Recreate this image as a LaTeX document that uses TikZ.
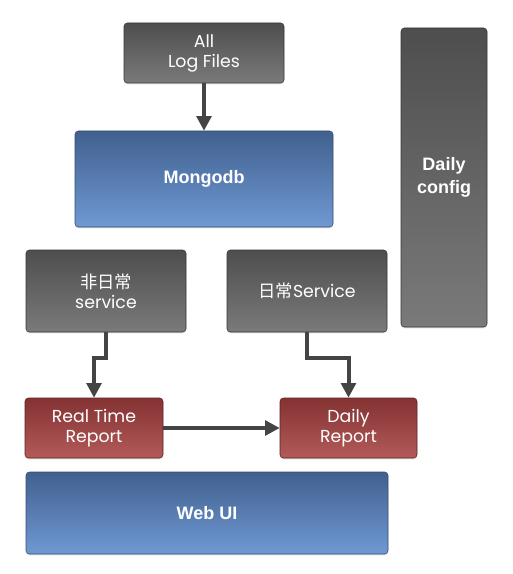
\documentclass[tikz,border=0pt]{standalone}
\usepackage{fontspec}
\usepackage{xcolor}
\setmainfont{Poppins}
\newfontfamily\cjk{Noto Sans CJK SC}
\newfontfamily\heavy{Liberation Sans}
\usetikzlibrary{arrows.meta,shadows}
\definecolor{greytop}{HTML}{4E4E4E}
\definecolor{greybot}{HTML}{7A7A7A}
\definecolor{bluetop}{HTML}{41608F}
\definecolor{bluebot}{HTML}{6F99D3}
\definecolor{redtop}{HTML}{843232}
\definecolor{redbot}{HTML}{B35A5A}
\definecolor{wire}{HTML}{444444}
\tikzset{
    box/.style={rounded corners=2.5pt, text=white, align=center, inner sep=0pt,
        drop shadow={shadow xshift=0pt, shadow yshift=-1pt, opacity=.25}},
    greybox/.style={box, draw=greytop!70!black, top color=greytop, bottom color=greybot,
        font=\fontsize{13}{15}\selectfont},
    bluebox/.style={box, draw=bluetop!80!black, top color=bluetop, bottom color=bluebot,
        font=\heavy\bfseries\fontsize{13.5}{15}\selectfont},
    redbox/.style={box, draw=redtop!70!black, top color=redtop, bottom color=redbot,
        font=\fontsize{13}{15}\selectfont},
    flow/.style={draw=wire, line width=3pt, -{Triangle[length=11pt,width=11pt]}}
}

\begin{document}
\begin{tikzpicture}[x=0.75pt, y=-0.75pt]
\useasboundingbox (0,0) rectangle (513,574);
% top
\node[greybox, minimum width=120pt, minimum height=45pt] (logs) at (204,53) {All\\Log Files};
\node[bluebox, minimum width=193.5pt, minimum height=72pt] (mongo) at (204,179) {Mongodb};
\node[greybox, font=\heavy\bfseries\fontsize{13.5}{17}\selectfont,
    minimum width=64.5pt, minimum height=224.25pt] (config) at (444,177.5) {Daily\\config};
% services
\node[greybox, minimum width=120pt, minimum height=61.5pt] (irregular) at (106,291) {{\cjk 非日常}\\service};
\node[greybox, minimum width=120pt, minimum height=61.5pt] (regular) at (307,291) {{\cjk 日常}Service};
% reports
\node[redbox, minimum width=103.5pt, minimum height=45pt] (realtime) at (94,428) {Real Time\\Report};
\node[redbox, minimum width=102.75pt, minimum height=45pt] (dailyrep) at (348.5,428) {Daily\\Report};
\node[bluebox, minimum width=271.5pt, minimum height=61.5pt] (webui) at (207,513) {Web UI};
% wires
\draw[flow] (logs) -- (mongo);
\draw[flow] (irregular.south) -- ++(0,26) -| (realtime.north);
\draw[flow] (regular.south) -- ++(0,26) -| (dailyrep.north);
\draw[flow] (realtime) -- (dailyrep);
\end{tikzpicture}
\end{document}
